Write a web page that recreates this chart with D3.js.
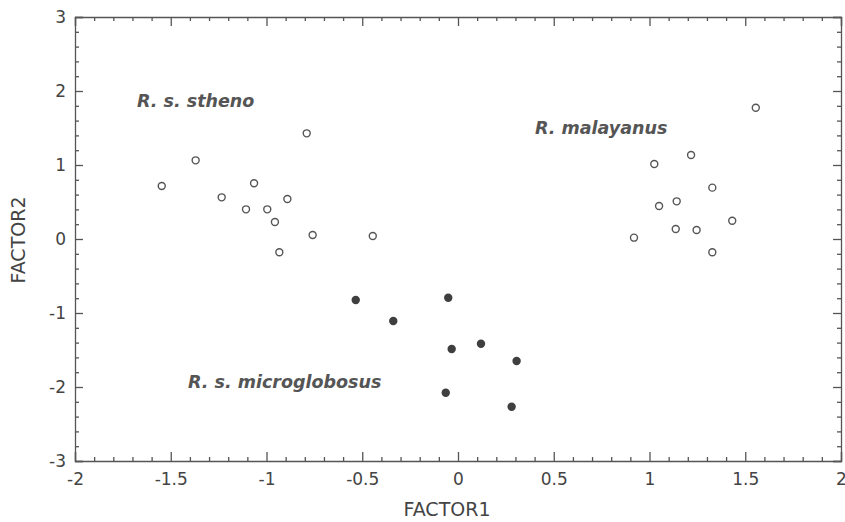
<!DOCTYPE html>
<html>
<head>
<meta charset="utf-8">
<script src="https://cdn.jsdelivr.net/npm/d3@7"></script>
<style>
  body { margin: 0; background: #fff; }
  svg { display: block; }
  .axis path, .axis line { stroke: #555; stroke-width: 1.3; }
  .axis text { font-family: "DejaVu Sans", sans-serif; font-size: 17px; fill: #444; }
</style>
</head>
<body>
<svg id="chart"></svg>
<script>
// stheno (open circles)
const sthenoX = [-1.547, -1.370, -1.234, -1.107, -1.065, -0.996, -0.891, -0.956, -0.933, -0.790, -0.759, -0.445];
const sthenoY = [0.716, 1.063, 0.563, 0.401, 0.753, 0.401, 0.540, 0.230, -0.180, 1.428, 0.054, 0.040];

// malayanus (open circles)
const malayX = [1.555, 1.217, 1.025, 1.328, 1.142, 1.050, 1.432, 1.137, 1.246, 0.919, 1.328];
const malayY = [1.774, 1.135, 1.014, 0.694, 0.509, 0.446, 0.247, 0.135, 0.122, 0.018, -0.180];

// microglobosus (filled)
const microX = [-0.534, -0.051, -0.338, 0.120, -0.033, 0.306, -0.064, 0.280];
const microY = [-0.824, -0.793, -1.108, -1.415, -1.486, -1.649, -2.077, -2.266];

const xTicks = [-2, -1.5, -1, -0.5, 0, 0.5, 1, 1.5, 2];
const yTicks = [-3, -2, -1, 0, 1, 2, 3];

const groupLabels = ["R. s. stheno", "R. malayanus", "R. s. microglobosus"];
const labelX = [-1.676, 0.402, -1.41];
const labelY = [1.85, 1.49, -1.95];

document.addEventListener('DOMContentLoaded', function () {
    drawChart('chart');
});

function drawChart(id) {
    const W = 845, H = 522;
    const svg = d3.select('#' + id).attr('width', W).attr('height', H);

    const x = d3.scaleLinear().domain([-2, 2]).range([75, 841]);
    const y = d3.scaleLinear().domain([-3, 3]).range([461, 17]);

    const xMinor = d3.range(-20, 21).map(d => d / 10).filter(d => !xTicks.includes(d));
    const yMinor = d3.range(-15, 16).map(d => d / 5).filter(d => !yTicks.includes(d));

    const fmt = d => String(d);

    // bottom axis
    svg.append('g').attr('class', 'axis')
        .attr('transform', `translate(0,${y(-3)})`)
        .call(d3.axisBottom(x).tickValues(xTicks).tickSize(-9).tickPadding(12).tickFormat(fmt));
    svg.append('g').attr('class', 'axis')
        .attr('transform', `translate(0,${y(-3)})`)
        .call(d3.axisBottom(x).tickValues(xMinor).tickSize(-4).tickFormat(''))
        .select('.domain').remove();

    // top axis
    svg.append('g').attr('class', 'axis')
        .attr('transform', `translate(0,${y(3)})`)
        .call(d3.axisTop(x).tickValues(xTicks).tickSize(-9).tickFormat(''));
    svg.append('g').attr('class', 'axis')
        .attr('transform', `translate(0,${y(3)})`)
        .call(d3.axisTop(x).tickValues(xMinor).tickSize(-4).tickFormat(''))
        .select('.domain').remove();

    // left axis
    svg.append('g').attr('class', 'axis')
        .attr('transform', `translate(${x(-2)},0)`)
        .call(d3.axisLeft(y).tickValues(yTicks).tickSize(-8).tickPadding(9).tickFormat(fmt));
    svg.append('g').attr('class', 'axis')
        .attr('transform', `translate(${x(-2)},0)`)
        .call(d3.axisLeft(y).tickValues(yMinor).tickSize(-4).tickFormat(''))
        .select('.domain').remove();

    // right axis
    svg.append('g').attr('class', 'axis')
        .attr('transform', `translate(${x(2)},0)`)
        .call(d3.axisRight(y).tickValues(yTicks).tickSize(-8).tickFormat(''));
    svg.append('g').attr('class', 'axis')
        .attr('transform', `translate(${x(2)},0)`)
        .call(d3.axisRight(y).tickValues(yMinor).tickSize(-4).tickFormat(''))
        .select('.domain').remove();

    // axis titles
    svg.append('text')
        .attr('x', 447).attr('y', 510)
        .attr('text-anchor', 'middle').attr('dominant-baseline', 'middle')
        .attr('font-family', '"DejaVu Sans", sans-serif')
        .attr('font-size', 19).attr('fill', '#444')
        .text('FACTOR1');
    svg.append('text')
        .attr('transform', 'translate(19,240) rotate(-90)')
        .attr('text-anchor', 'middle').attr('dominant-baseline', 'middle')
        .attr('font-family', '"DejaVu Sans", sans-serif')
        .attr('font-size', 19).attr('fill', '#444')
        .text('FACTOR2');

    // open circles
    const open = sthenoX.map((v, i) => ({ x: v, y: sthenoY[i] }))
        .concat(malayX.map((v, i) => ({ x: v, y: malayY[i] })));
    svg.append('g').selectAll('circle')
        .data(open).join('circle')
        .attr('cx', d => x(d.x)).attr('cy', d => y(d.y))
        .attr('r', 3.5)
        .attr('fill', 'none').attr('stroke', '#555').attr('stroke-width', 1.4);

    // filled circles
    svg.append('g').selectAll('circle')
        .data(microX.map((v, i) => ({ x: v, y: microY[i] }))).join('circle')
        .attr('cx', d => x(d.x)).attr('cy', d => y(d.y))
        .attr('r', 4.2)
        .attr('fill', '#3f3f3f');

    // group labels
    svg.append('g').selectAll('text')
        .data(groupLabels).join('text')
        .attr('x', (d, i) => x(labelX[i]))
        .attr('y', (d, i) => y(labelY[i]))
        .attr('dominant-baseline', 'middle')
        .attr('font-family', '"DejaVu Sans", sans-serif')
        .attr('font-size', 17.5).attr('font-weight', 'bold').attr('font-style', 'italic')
        .attr('fill', '#555')
        .text(d => d);
}
</script>
</body>
</html>
